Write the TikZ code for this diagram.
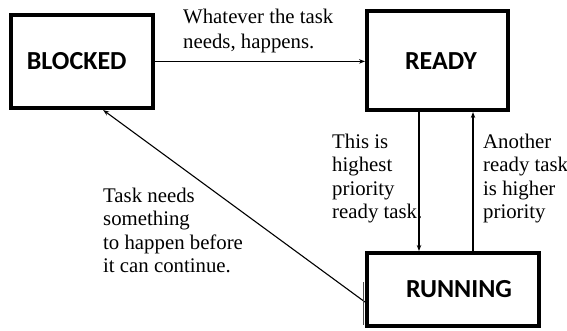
\documentclass[tikz,border=0pt]{standalone}
\usepackage{fontspec}
\setmainfont{Liberation Serif}
\newfontfamily\boxfont{Carlito}
\usetikzlibrary{arrows.meta}
\begin{document}
\begin{tikzpicture}[x=1pt,y=-1pt,
  statebox/.style={draw=black,line width=4pt,inner sep=0pt,
    font=\boxfont\bfseries\fontsize{26}{30}\selectfont},
  arr/.style={draw=black,line width=1.1pt,-{Stealth[length=6pt,width=4.5pt]}},
  note/.style={anchor=north west,inner sep=0pt,align=left,
    font=\fontsize{20.8}{23.5}\selectfont}]
\useasboundingbox (0,0) rectangle (567,330);
\node[statebox,minimum width=141.7pt,minimum height=93.3pt] (blk) at (82.2,61.4) {\hspace*{-11pt}BLOCKED};
\node[statebox,minimum width=141pt,minimum height=98.7pt] (rdy) at (437.5,60.7) {\hspace*{7pt}READY};
\node[statebox,minimum width=172pt,minimum height=73pt] (run) at (453,289.5) {\hspace*{12pt}RUNNING};
\draw[arr] (blk.east) -- (blk.east -| rdy.west);
\draw[arr] ([xshift=-18.5pt]rdy.south) -- ([xshift=-18.5pt]rdy.south |- run.north);
\draw[arr] ([xshift=35.5pt]rdy.south |- run.north) -- ([xshift=35.5pt]rdy.south);
\draw[arr] ([yshift=-12.5pt]run.west) -- ([xshift=21pt]blk.south);
\draw[line width=0.6pt,black!70] ([xshift=-2pt,yshift=7.5pt]run.west) -- ([xshift=-2pt,yshift=-35.5pt]run.west);
\node[note,font=\fontsize{20.8}{25.5}\selectfont] (t1) at (183,8.6) {Whatever the task\\needs, happens.};
\node[note] (t2) at (332,133.5) {This is\\highest\\priority\\ready task.};
\node[note] (t3) at (483,133.5) {Another\\ready task\\is higher\\priority};
\node[note] (t4) at (103,187.5) {Task needs\\something\\to happen before\\it can continue.};
\end{tikzpicture}
\end{document}
